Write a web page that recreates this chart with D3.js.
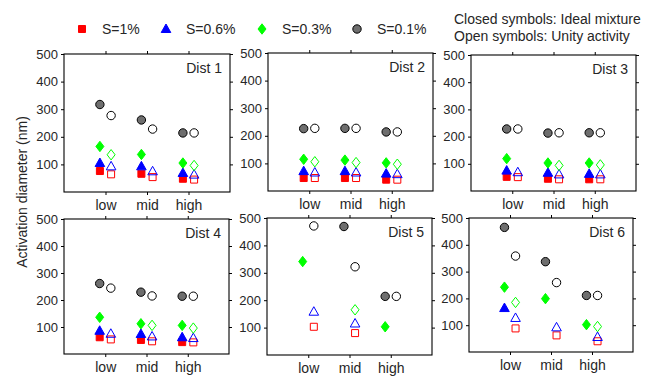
<!DOCTYPE html>
<html>
<head>
<meta charset="utf-8">
<style>
  body { margin: 0; background: #fff; }
  text { font-family: "Liberation Sans", Arial, sans-serif; }
</style>
</head>
<body>
<svg width="653" height="376"></svg>
<script src="https://d3js.org/d3.v7.min.js"></script>
<script>

    // ---- data ----
    var categories = ["low", "mid", "high"];
    var distNames = ["Dist 1", "Dist 2", "Dist 3", "Dist 4", "Dist 5", "Dist 6"];
    var seriesLabels = ["S=1%", "S=0.6%", "S=0.3%", "S=0.1%"];
    var yTicks = [100, 200, 300, 400, 500];
    var noteLines = ["Closed symbols: Ideal mixture", "Open symbols: Unity activity"];

    // one row per Dist, one column per category; closed = ideal mixture, open = unity activity
    var s1Closed = [[76, 66, 48], [47, 47, 41], [52, 45, 43], [62, 52, 44], [null, null, null], [null, null, null]];
    var s1Open   = [[64, 54, 45], [47, 47, 41], [51, 43, 43], [54, 47, 43], [103, 80, null], [88, 62, 40]];
    var s06Closed = [[105, 93, 69], [72, 72, 63], [75, 67, 63], [86, 74, 62], [null, null, null], [164, null, null]];
    var s06Open   = [[93, 75, 63], [67, 67, 61], [69, 61, 61], [75, 65, 59], [158, 115, null], [127, 92, 56]];
    var s03Closed = [[165, 136, 105], [115, 112, 102], [119, 103, 103], [136, 112, 106], [341, null, 103], [242, 199, 102]];
    var s03Open   = [[135, null, 96], [106, 103, 97], [null, 94, 96], [null, 106, 96], [null, 165, null], [185, null, 95]];
    var s01Closed = [[317, 261, 214], [226, 227, 214], [228, 213, 214], [261, 229, 214], [null, 469, 214], [465, 337, 211]];
    var s01Open   = [[277, 228, 214], [227, 227, 214], [228, 214, 214], [244, 215, 214], [471, 322, 214], [358, 259, 211]];

    var series = [
        {label: seriesLabels[0], shape: "square",   color: "#ff0000", fill: "#ff0000", closed: s1Closed,  open: s1Open},
        {label: seriesLabels[1], shape: "triangle", color: "#0000ff", fill: "#0000ff", closed: s06Closed, open: s06Open},
        {label: seriesLabels[2], shape: "diamond",  color: "#00ff00", fill: "#00ff00", closed: s03Closed, open: s03Open},
        {label: seriesLabels[3], shape: "circle",   color: "#000000", fill: "#6e6e6e", closed: s01Closed, open: s01Open}
    ];

    /* --------------------
     Layout
   -------------------- */
    var svg = d3.select("svg");

    var panels = [
        {x: 64,  y: 54,  w: 166, h: 138},
        {x: 268, y: 53,  w: 165, h: 138},
        {x: 471, y: 55,  w: 165, h: 136},
        {x: 64,  y: 219, w: 165, h: 135},
        {x: 267, y: 218, w: 165, h: 137},
        {x: 469, y: 218, w: 164, h: 134}
    ];

    var offset = 0.135;   // closed markers sit left of the tick, open ones right

    function shapePath(shape, cx, cy) {
        var p = d3.path();
        if (shape === "square") {
            p.rect(cx - 3.5, cy - 3.5, 7, 7);
        } else if (shape === "triangle") {
            p.moveTo(cx, cy - 5);
            p.lineTo(cx + 4.8, cy + 3.5);
            p.lineTo(cx - 4.8, cy + 3.5);
            p.closePath();
        } else if (shape === "diamond") {
            p.moveTo(cx, cy - 5.2);
            p.lineTo(cx + 4, cy);
            p.lineTo(cx, cy + 5.2);
            p.lineTo(cx - 4, cy);
            p.closePath();
        } else {
            p.arc(cx, cy, 4.2, 0, 2 * Math.PI);
        }
        return p.toString();
    }

    function styleAxis(sel, fontSize) {
        sel.attr("font-family", null).attr("font-size", fontSize).attr("color", "#000");
        sel.selectAll("text").attr("fill", "#262626");
        sel.select(".domain").remove();
    }

    panels.forEach(function(p, i) {
        var g = svg.append("g").attr("transform", "translate(" + p.x + "," + p.y + ")");

        var x = d3.scaleLinear().domain([0, 4]).range([0, p.w]);
        var y = d3.scaleLinear().domain([0, 500]).range([p.h, 0]);

        g.append("g")
            .call(d3.axisLeft(y).tickValues(yTicks).tickSize(3).tickSizeOuter(0).tickPadding(3))
            .call(styleAxis, 13);
        g.append("g")
            .attr("transform", "translate(" + p.w + ",0)")
            .call(d3.axisRight(y).tickValues(yTicks).tickFormat("").tickSize(3).tickSizeOuter(0))
            .call(styleAxis, 13);
        g.append("g")
            .call(d3.axisTop(x).tickValues([1, 2, 3]).tickFormat("").tickSize(3).tickSizeOuter(0))
            .call(styleAxis, 14);
        g.append("g")
            .attr("transform", "translate(0," + p.h + ")")
            .call(d3.axisBottom(x).tickValues([1, 2, 3])
                .tickFormat(function(d) { return categories[d - 1]; })
                .tickSize(3).tickSizeOuter(0).tickPadding(5.5))
            .call(styleAxis, 14);

        g.append("rect")
            .attr("width", p.w)
            .attr("height", p.h)
            .attr("fill", "none")
            .attr("stroke", "#000")
            .attr("stroke-width", 1.1);

        g.append("text")
            .attr("x", p.w - 8)
            .attr("y", 19)
            .attr("text-anchor", "end")
            .attr("font-size", 14)
            .attr("fill", "#262626")
            .text(distNames[i]);

        series.forEach(function(s) {
            // closed symbols
            s.closed[i].forEach(function(v, j) {
                if (v == null) return;
                g.append("path")
                    .attr("d", shapePath(s.shape, x(j + 1 - offset), y(v)))
                    .attr("fill", s.fill)
                    .attr("stroke", s.color)
                    .attr("stroke-width", 1);
            });
            // open symbols
            s.open[i].forEach(function(v, j) {
                if (v == null) return;
                g.append("path")
                    .attr("d", shapePath(s.shape, x(j + 1 + offset), y(v)))
                    .attr("fill", "none")
                    .attr("stroke", s.color)
                    .attr("stroke-width", 1);
            });
        });
    });

    // y axis title
    svg.append("text")
        .attr("transform", "translate(22,192) rotate(-90)")
        .attr("text-anchor", "middle")
        .attr("dominant-baseline", "central")
        .attr("font-size", 14)
        .attr("fill", "#262626")
        .text("Activation diameter (nm)");

    // legend
    var legendX = [82, 166, 262, 357];
    series.forEach(function(s, k) {
        svg.append("path")
            .attr("d", shapePath(s.shape, legendX[k], 29))
            .attr("fill", s.fill)
            .attr("stroke", s.color)
            .attr("stroke-width", 1);
        svg.append("text")
            .attr("x", legendX[k] + 20)
            .attr("y", 34)
            .attr("font-size", 14)
            .attr("fill", "#262626")
            .text(s.label);
    });

    svg.selectAll(".note")
        .data(noteLines)
        .enter().append("text")
        .attr("class", "note")
        .attr("x", 454)
        .attr("y", function(d, k) { return 24 + k * 17; })
        .attr("font-size", 14)
        .attr("fill", "#262626")
        .text(function(d) { return d; });

</script>
</body>
</html>
